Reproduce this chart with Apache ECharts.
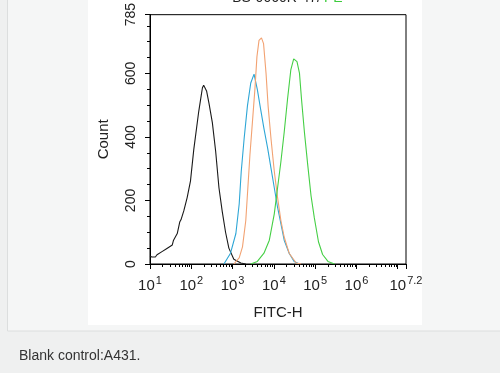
<!DOCTYPE html>
<html>
<head>
<meta charset="utf-8">
<script src="https://cdn.jsdelivr.net/npm/echarts@6/dist/echarts.min.js"></script>
<style>
html,body{margin:0;padding:0;background:#eff0f0;}
#chart{width:500px;height:373px;}
</style>
</head>
<body>
<div id="chart"></div>
<script>
// x values are log10(FITC-H)
var blankLog   = [1.00,1.05,1.13,1.17,1.29,1.33,1.41,1.45,1.54,1.57,1.66,1.72,1.75,1.82,1.90,1.98,2.06,2.18,2.24,2.27,2.30,2.33,2.37,2.43,2.51,2.59,2.67,2.75,2.83,2.91,3.03,3.20,3.32];
var blankCount = [24,22,22,29,39,42,49,51,60,75,96,132,139,168,209,261,360,480,530,555,563,560,545,505,445,355,240,165,100,50,15,3,0];

var blueLog    = [2.79,2.95,3.08,3.16,3.21,3.28,3.36,3.44,3.52,3.60,3.68,3.76,3.85,3.93,4.01,4.09,4.17,4.25,4.37,4.49,4.62];
var blueCount  = [0,34,96,189,292,395,498,570,598,549,487,426,364,302,240,178,127,75,34,8,0];

var orangeLog   = [3.03,3.16,3.24,3.32,3.37,3.42,3.48,3.54,3.59,3.64,3.70,3.75,3.81,3.86,3.93,4.01,4.09,4.17,4.25,4.37,4.54,4.66];
var orangeCount = [0,19,54,137,240,343,446,549,653,704,712,694,601,498,395,292,209,137,85,34,3,0];

var greenLog   = [3.44,3.60,3.76,3.89,4.01,4.09,4.17,4.25,4.33,4.41,4.48,4.56,4.62,4.67,4.74,4.82,4.90,4.98,5.08,5.18,5.31,5.47];
var greenCount = [0,8,34,75,158,240,322,415,518,611,646,637,601,518,415,312,215,145,70,30,8,0];

var yTicks = [0,200,400,600,785];
var xDecades = [1,2,3,4,5,6,7];
var xMaxLog = 7.2;

function zip(a,b){ var r=[]; for(var i=0;i<a.length;i++) r.push([a[i],b[i]]); return r; }

// log minor tick positions (axis decoration)
var minorTicks = [];
xDecades.forEach(function(d){
  for (var k=2;k<=9;k++){ var v=d+Math.log10(k); if (v<xMaxLog) minorTicks.push([v,0]); }
});

var FONT = 'Liberation Sans, Arial, sans-serif';
function line(name,data,color){
  return {name:name,type:'line',data:data,symbol:'none',smooth:false,
    lineStyle:{color:color,width:1.1},z:3,animation:false};
}

var chart = echarts.init(document.getElementById('chart'),null,{renderer:'canvas'});
chart.setOption({
  backgroundColor:'#eff0f0',
  animation:false,
  graphic:[
    {type:'rect',z:-100,shape:{x:7.5,y:-2,width:495,height:333},style:{fill:'#f5f6f6',stroke:'#dcdede',lineWidth:1}},
    {type:'rect',z:-99,shape:{x:88,y:0,width:334,height:325},style:{fill:'#ffffff'}},
    {type:'text',z:10,x:321,y:5,style:{text:'BS-0060R-47/',font:'14px '+FONT,fill:'#222',align:'right',verticalAlign:'bottom'}},
    {type:'text',z:10,x:324,y:5,style:{text:'PE',font:'14px '+FONT,fill:'#3ccc3c',align:'left',verticalAlign:'bottom'}},
    {type:'text',z:10,x:19,y:356.5,style:{text:'Blank control:A431.',font:'14px '+FONT,fill:'#333',align:'left',verticalAlign:'middle'}}
  ],
  grid:{left:150,top:10,width:256,height:254,show:true,borderColor:'#000',borderWidth:1,backgroundColor:'transparent',containLabel:false},
  xAxis:{
    type:'value',min:1,max:xMaxLog,interval:1,
    name:'FITC-H',nameLocation:'middle',nameGap:41,
    nameTextStyle:{fontFamily:FONT,fontSize:15,color:'#222'},
    axisLine:{show:true,lineStyle:{color:'#000',width:1}},
    axisTick:{show:true,length:5,lineStyle:{color:'#000'}},
    splitLine:{show:false},
    axisLabel:{
      interval:0,margin:9,color:'#222',fontFamily:FONT,
      formatter:function(v){
        if (Math.abs(v-7)<1e-6) return '';
        var e = Math.abs(v-xMaxLog)<1e-6 ? '7.2' : String(Math.round(v));
        return '{b|10}{s|'+e+'}';
      },
      rich:{
        b:{fontSize:15,fontFamily:FONT,color:'#222',padding:[5,0,0,0]},
        s:{fontSize:11,fontFamily:FONT,color:'#222',verticalAlign:'top',padding:[2,0,0,1]}
      }
    }
  },
  yAxis:{
    type:'value',min:0,max:785,interval:200,
    name:'Count',nameLocation:'middle',nameGap:39,nameRotate:90,
    nameTextStyle:{fontFamily:FONT,fontSize:15,color:'#222'},
    axisLine:{show:true,lineStyle:{color:'#000',width:1}},
    axisTick:{show:true,length:5,lineStyle:{color:'#000'}},
    minorTick:{show:true,splitNumber:4,length:3,lineStyle:{color:'#000'}},
    splitLine:{show:false},
    axisLabel:{rotate:90,margin:12,fontSize:14,fontFamily:FONT,color:'#222'}
  },
  series:[
    line('Blank',zip(blankLog,blankCount),'#1a1a1a'),
    line('Blue',zip(blueLog,blueCount),'#2ea6d6'),
    line('Orange',zip(orangeLog,orangeCount),'#f2a272'),
    line('Green',zip(greenLog,greenCount),'#45cf45'),
    {type:'custom',data:minorTicks,z:4,silent:true,animation:false,
      renderItem:function(params,api){
        var p = api.coord([api.value(0),0]);
        var x = Math.round(p[0])+0.5;
        return {type:'line',shape:{x1:x,y1:p[1],x2:x,y2:p[1]+3},style:{stroke:'#000',lineWidth:1}};
      }}
  ]
});
</script>
</body>
</html>
